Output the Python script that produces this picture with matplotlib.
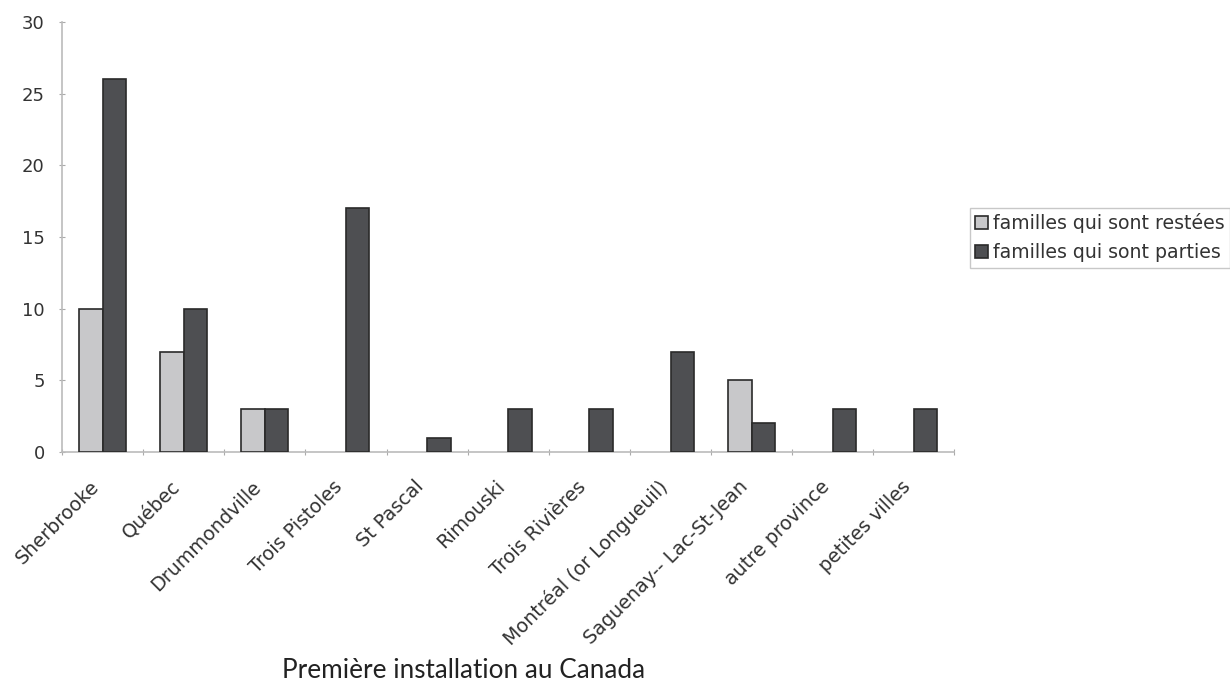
import numpy as np
import matplotlib
matplotlib.use("Agg")
from matplotlib import pyplot as plt
from matplotlib import transforms

# Data
villes = [
    "Sherbrooke", "Québec", "Drummondville", "Trois Pistoles", "St Pascal",
    "Rimouski", "Trois Rivières", "Montréal (or Longueuil)",
    "Saguenay-- Lac-St-Jean", "autre province", "petites villes",
]
restees = [10, 7, 3, 0, 0, 0, 0, 0, 5, 0, 0]
parties = [26, 10, 3, 17, 1, 3, 3, 7, 2, 3, 3]
y_ticks = [0, 5, 10, 15, 20, 25, 30]

plt.rcParams["font.family"] = "DejaVu Sans"
fig = plt.figure(figsize=(12.3, 6.85), dpi=100)
ax = fig.add_axes([0.0504, 0.34, 0.7256, 0.628])

x = np.arange(len(villes))
w = 0.29
b1 = ax.bar(x - w / 2, restees, w, color="#c8c8ca", edgecolor="#2a2a2a", linewidth=1.2,
            label="familles qui sont restées", zorder=3)
b2 = ax.bar(x + w / 2, parties, w, color="#4e4f52", edgecolor="#2a2a2a", linewidth=1.2,
            label="familles qui sont parties", zorder=3)
# no outline for empty bars
for p in list(b1) + list(b2):
    if p.get_height() == 0:
        p.set_visible(False)

ax.set_xlim(-0.5, len(villes) - 0.5)
ax.set_ylim(0, 30)
ax.set_yticks(y_ticks)
# ticks sit between the categories, labels are drawn as rotated text
ax.set_xticks(np.arange(len(villes) + 1) - 0.5)
ax.set_xticklabels([])
shift = transforms.ScaledTranslation(-13 / 100, -25 / 100, fig.dpi_scale_trans)
for xi, nom in zip(x, villes):
    ax.text(xi, 0, nom, transform=ax.get_xaxis_transform() + shift,
            rotation=45, ha="right", va="top", rotation_mode="anchor",
            fontsize=13.8, color="#333333", family="DejaVu Sans")

ax.tick_params(axis="x", length=5, color="#aaaaaa", direction="inout")
ax.tick_params(axis="y", length=5, color="#aaaaaa", direction="inout",
               labelsize=13, labelcolor="#333333", pad=10)

for s in ["top", "right"]:
    ax.spines[s].set_visible(False)
for s in ["left", "bottom"]:
    ax.spines[s].set_color("#bbbbbb")
    ax.spines[s].set_linewidth(1.2)

leg = fig.legend(loc="upper left", bbox_to_anchor=(0.7886, 0.6964),
                 prop={"family": "DejaVu Sans", "size": 13.6},
                 frameon=True, fancybox=False, handlelength=0.7, handleheight=0.7,
                 handletextpad=0.25, borderpad=0.27, labelspacing=0.55,
                 borderaxespad=0)
leg.get_frame().set_edgecolor("#bbbbbb")
leg.get_frame().set_linewidth(1.0)
for t in leg.get_texts():
    t.set_color("#333333")

fig.text(0.377, 0.0102, "Première installation au Canada", ha="center", va="baseline",
         fontsize=18.8, color="#222222", family=["Lato", "DejaVu Sans"])

fig.savefig("out.png", dpi=100)
